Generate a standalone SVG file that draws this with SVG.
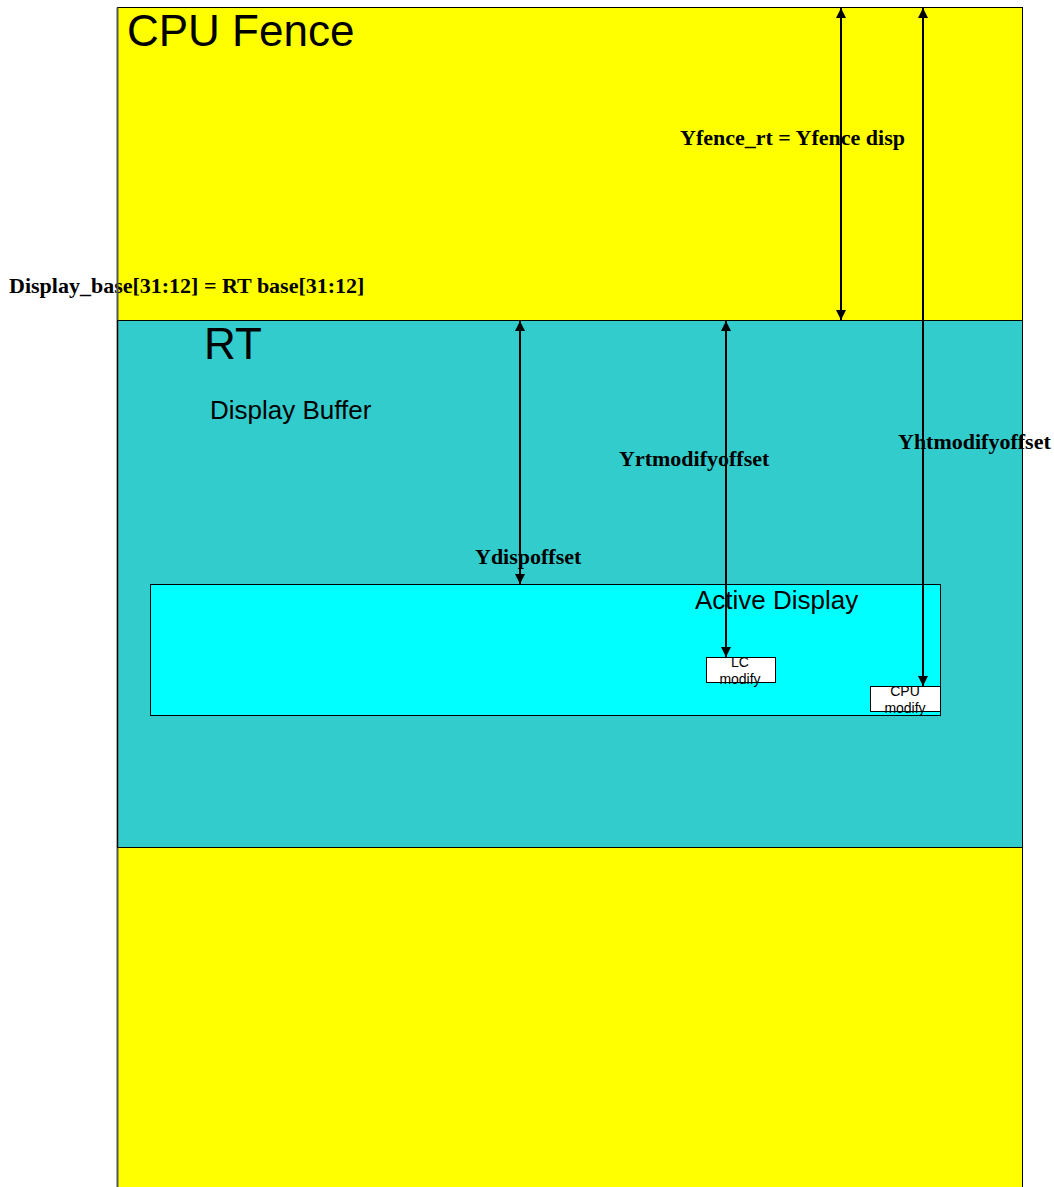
<svg xmlns="http://www.w3.org/2000/svg" width="1054" height="1187" viewBox="0 0 1054 1187">
  <defs>
    <marker id="ah" viewBox="0 0 10 10" refX="10" refY="5" markerWidth="10" markerHeight="10" markerUnits="userSpaceOnUse" orient="auto-start-reverse">
      <path d="M0,0 L10,5 L0,10 z" fill="#000"/>
    </marker>
    <style>
      .sans { font-family: "Liberation Sans", Arial, sans-serif; fill: #000; }
      .lbl { font-family: "Liberation Serif", "Times New Roman", serif; font-weight: bold; font-size: 22px; fill: #000; }
      .edge { fill: none; stroke: #000; stroke-width: 1; }
      .dim { stroke: #000; stroke-width: 2; fill: none; marker-start: url(#ah); marker-end: url(#ah); }
      .box { fill: #fff; stroke: #000; stroke-width: 1; }
    </style>
  </defs>

  <rect width="1054" height="1187" fill="#fff"/>

  <!-- region fills -->
  <g id="fence">
    <rect x="117.5" y="7.5" width="905" height="1190" fill="#ffff00"/>
  </g>
  <g id="rt">
    <rect x="117.5" y="320.5" width="905" height="527" fill="#33cccc"/>
  </g>
  <g id="active-display">
    <rect x="150.5" y="584.5" width="790" height="131" fill="#00ffff"/>
  </g>

  <!-- region titles -->
  <text class="sans" x="127" y="46" font-size="44">CPU Fence</text>
  <text class="sans" x="204" y="359" font-size="44">RT</text>
  <text class="sans" x="210" y="419" font-size="26">Display Buffer</text>
  <text class="sans" x="695" y="609" font-size="26">Active Display</text>

  <!-- dimension labels -->
  <text class="lbl" x="680" y="145">Yfence_rt = Yfence disp</text>
  <text class="lbl" x="9" y="293">Display_base[31:12] = RT base[31:12]</text>
  <text class="lbl" x="619" y="466">Yrtmodifyoffset</text>
  <text class="lbl" x="898" y="449">Yhtmodifyoffset</text>
  <text class="lbl" x="475" y="564">Ydispoffset</text>

  <!-- region outlines -->
  <rect class="edge" x="117.5" y="7.5" width="905" height="1190"/>
  <line x1="117.5" y1="7.5" x2="117.5" y2="1187" stroke="#555" stroke-width="2"/>
  <rect class="edge" x="117.5" y="320.5" width="905" height="527"/>
  <rect class="edge" x="150.5" y="584.5" width="790" height="131"/>

  <!-- modify boxes -->
  <g id="lc-modify">
    <rect class="box" x="706.5" y="657.5" width="69" height="25"/>
    <text class="sans" x="740" y="667" font-size="14" text-anchor="middle">LC</text>
    <text class="sans" x="740" y="684" font-size="14" text-anchor="middle">modify</text>
  </g>
  <g id="cpu-modify">
    <rect class="box" x="870.5" y="686.5" width="70" height="25"/>
    <text class="sans" x="905" y="696" font-size="14" text-anchor="middle">CPU</text>
    <text class="sans" x="905" y="713" font-size="14" text-anchor="middle">modify</text>
  </g>

  <!-- dimension arrows -->
  <g id="connectors">
    <line class="dim" x1="841" y1="8" x2="841" y2="320"/>
    <line class="dim" x1="923" y1="8" x2="923" y2="686"/>
    <line class="dim" x1="520" y1="321" x2="520" y2="584"/>
    <line class="dim" x1="726" y1="321" x2="726" y2="657"/>
  </g>
</svg>
